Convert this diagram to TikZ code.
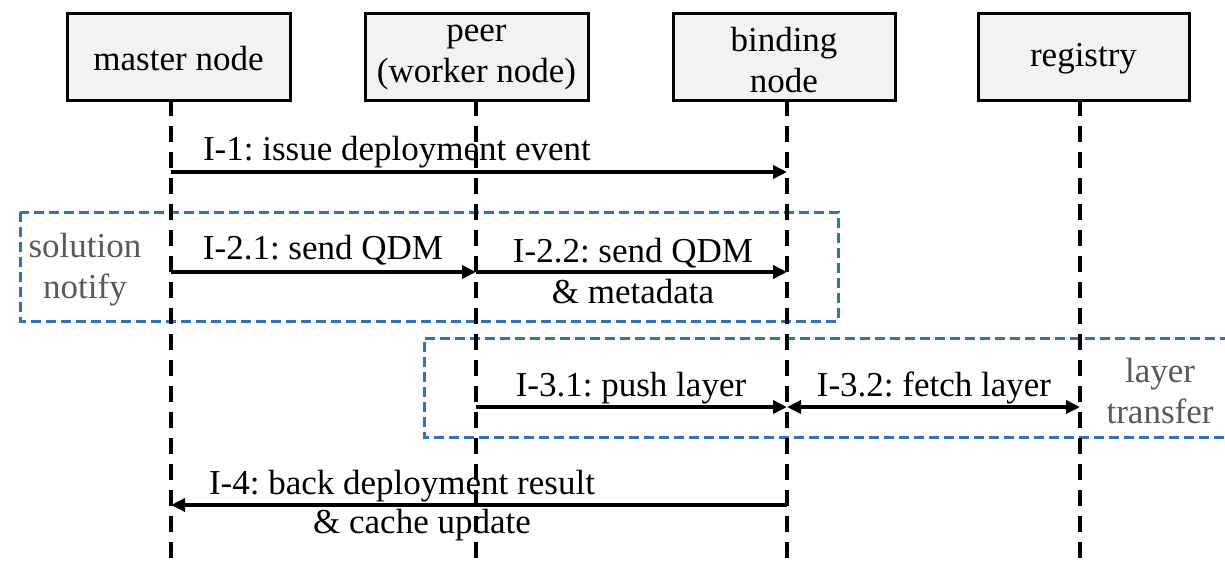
\documentclass[tikz,border=0pt]{standalone}
\usepackage{fontspec}
\setmainfont{Liberation Serif}
\usetikzlibrary{arrows.meta}
\definecolor{boxfill}{HTML}{F2F2F2}
\definecolor{groupblue}{HTML}{2E75B6}
\definecolor{grouptext}{HTML}{595959}
\frenchspacing
\begin{document}
\begin{tikzpicture}[x=1pt,y=-1pt,
  every node/.style={font=\fontsize{35}{41}\selectfont, inner sep=0pt},
  actor/.style={draw=black, line width=3pt, fill=boxfill, align=center, text depth=0pt},
  lifeline/.style={draw=black, line width=3.5pt, dash pattern=on 16pt off 10pt},
  msg/.style={draw=black, line width=3.5pt, -{Triangle[length=14pt,width=13pt]}},
  twomsg/.style={draw=black, line width=3.5pt, {Triangle[length=14pt,width=13pt]}-{Triangle[length=14pt,width=13pt]}},
  group/.style={draw=groupblue, line width=3pt, dash pattern=on 10pt off 5pt},
  grouplabel/.style={text=grouptext, align=center},
  lbl/.style={align=center}]
\useasboundingbox (0,0) rectangle (1225,566);

% participants
\node[actor, minimum width=223pt, minimum height=87pt] (master) at (178.5,56.5) {};
\node[actor, minimum width=223pt, minimum height=87pt] (peer) at (476.5,56.5) {};
\node[actor, minimum width=222pt, minimum height=87pt] (bind) at (784,56.5) {};
\node[actor, minimum width=211pt, minimum height=87pt] (reg) at (1083.5,56.5) {};
\node[lbl] (masterT) at (178.5,59) {master node};
\node[lbl] (peerT) at (476.5,57) {peer\\(worker node)};
\node[lbl] (bindT) at (784,60) {binding\\node};
\node[lbl] (regT) at (1083.5,59) {registry};

% lifeline ends
\coordinate (masterEnd) at (171,566);
\coordinate (peerEnd) at (476,566);
\coordinate (bindEnd) at (787,566);
\coordinate (regEnd) at (1080,566);
\coordinate (masterTop) at (171,100);
\coordinate (peerTop) at (476,100);
\coordinate (bindTop) at (787,100);
\coordinate (regTop) at (1080,100);

% grouping frames
\draw[group] (20,212) rectangle (838,321);
\draw[group] (1230,338) -- (424,338) -- (424,437) -- (1230,437);
\node[grouplabel] (g1) at (85,270) {solution\\notify};
\node[grouplabel] (g2) at (1160,391) {layer\\transfer};

% lifelines
\draw[lifeline] (masterTop) -- (masterEnd);
\draw[lifeline] (peerTop) -- (peerEnd);
\draw[lifeline] (bindTop) -- (bindEnd);
\draw[lifeline] (regTop) -- (regEnd);

% message anchors on the lifelines
\coordinate (m1) at (171,172);  \coordinate (b1) at (787,172);
\coordinate (m2) at (171,272);  \coordinate (p2) at (476,272);  \coordinate (b2) at (787,272);
\coordinate (p3) at (476,407);  \coordinate (b3) at (787,407);  \coordinate (r3) at (1080,407);
\coordinate (m4) at (171,505);  \coordinate (b4) at (787,505);

% messages
\draw[msg] (m1) -- (b1);
\node[lbl] (l1) at (397,152) {I-1: issue deployment event};

\draw[msg] (m2) -- (p2);
\node[lbl] (l21) at (323,250) {I-2.1: send QDM};
\draw[msg] (p2) -- (b2);
\node[lbl] (l22) at (633,271) {I-2.2: send QDM\\\& metadata};

\draw[msg] (p3) -- (b3);
\node[lbl] (l31) at (631,388) {I-3.1: push layer};
\draw[twomsg] (b3) -- (r3);
\node[lbl] (l32) at (934,388) {I-3.2: fetch layer};

\draw[msg] (b4) -- (m4);
\node[anchor=base] (l4a) at (402,494) {I-4: back deployment result};
\node[anchor=base] (l4b) at (422,533) {\& cache update};
\end{tikzpicture}
\end{document}
